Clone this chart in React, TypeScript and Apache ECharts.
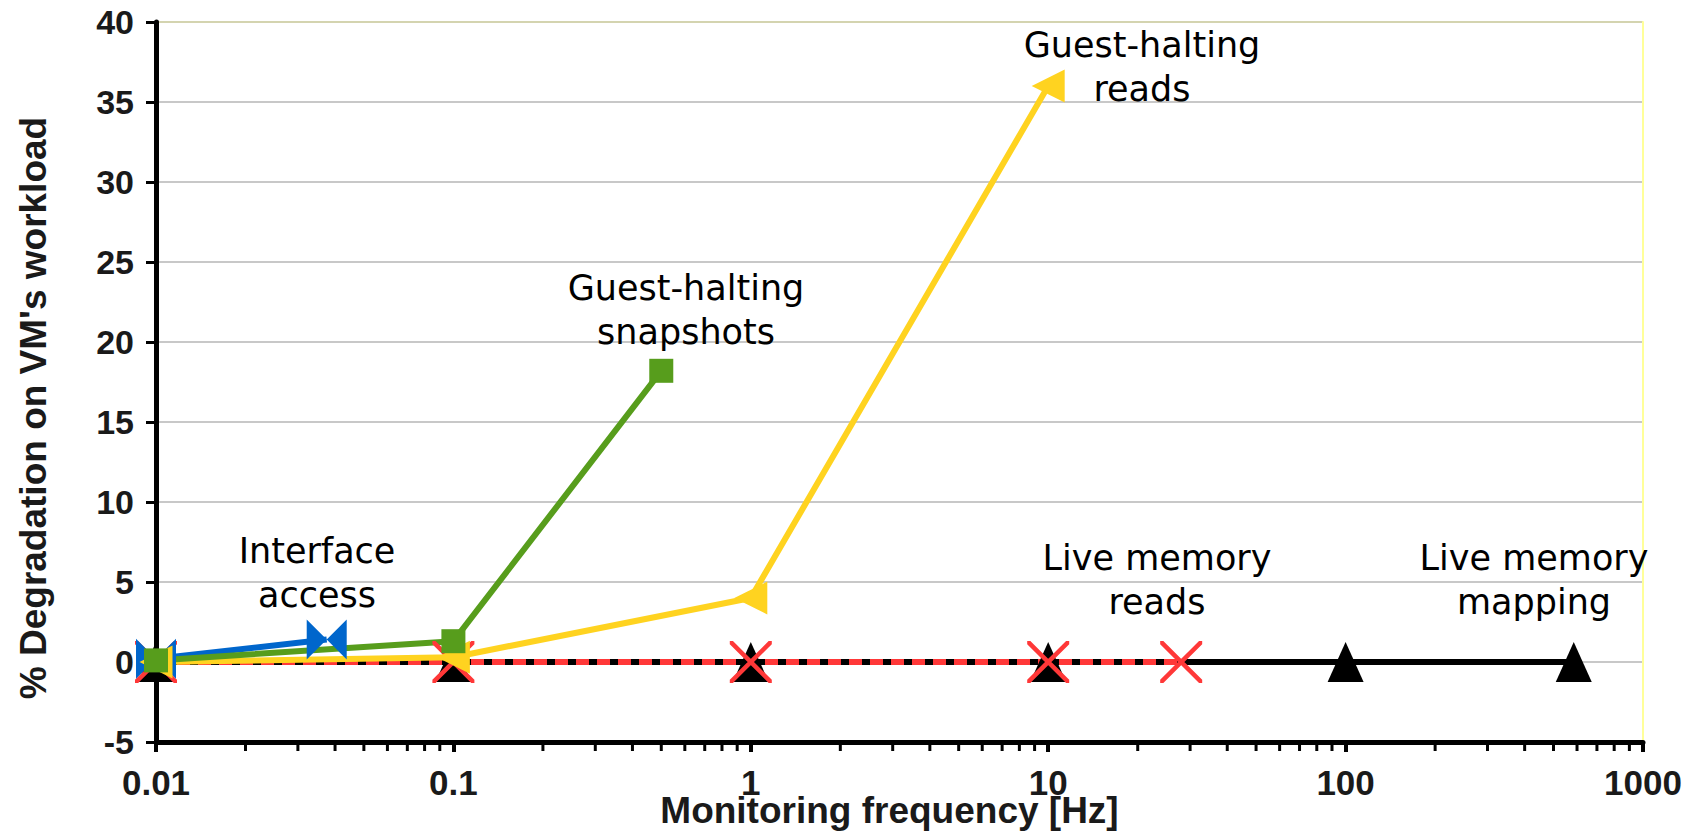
import React, { useEffect, useRef } from "react";
import * as echarts from "echarts";

// ---- data ----
const interfaceX = [0.01, 0.0375];
const interfaceY = [0.2, 1.4];
const snapshotsX = [0.01, 0.1, 0.5];
const snapshotsY = [0.1, 1.3, 18.2];
const readsX = [0.01, 0.1, 1, 10];
const readsY = [0, 0.3, 4, 36];
const liveReadsX = [0.01, 0.1, 1, 10, 28];
const liveReadsY = [0, 0, 0, 0, 0];
const mappingX = [0.01, 0.1, 1, 10, 100, 585];
const mappingY = [0, 0, 0, 0, 0, 0];

const xTickLabels = ["0.01", "0.1", "1", "10", "100", "1000"];
const xTickValues = [0.01, 0.1, 1, 10, 100, 1000];
const minorDecades = [0.01, 0.1, 1, 10, 100];
const minorMultipliers = [2, 3, 4, 5, 6, 7, 8, 9];

const annotations = [
  { text: "Guest-halting\nreads", x: 1142, y: 67 },
  { text: "Guest-halting\nsnapshots", x: 686, y: 310 },
  { text: "Interface\naccess", x: 317, y: 573 },
  { text: "Live memory\nreads", x: 1157, y: 580 },
  { text: "Live memory\nmapping", x: 1534, y: 580 },
];

const pairs = (xs: number[], ys: number[]) => xs.map((x, i) => [x, ys[i]]);

const BOWTIE = "path://M0,0 L20,10 L0,20 Z M40,0 L20,10 L40,20 Z";
const LEFT_TRI = "path://M0,10 L20,0 L20,20 Z";
const CROSS =
  "path://M0,0 L3,0 L40,37 L40,40 L37,40 L0,3 Z M40,0 L40,3 L3,40 L0,40 L0,37 L37,0 Z";

export default function App() {
  const ref = useRef<HTMLDivElement>(null);
  useEffect(() => {
    document.body.style.margin = "0";
    document.body.style.overflow = "hidden";
    if (!ref.current) return;
    const chart = echarts.init(ref.current, undefined, { renderer: "svg" });
    const minorTicks: number[][] = [];
    minorDecades.forEach((d) =>
      minorMultipliers.forEach((m) => minorTicks.push([+(d * m).toPrecision(6), -5]))
    );
    const gridColors = [
      "#c8c8c8", "#c8c8c8", "#c8c8c8", "#c8c8c8", "#c8c8c8",
      "#c8c8c8", "#c8c8c8", "#c8c8c8", "#c8c8c8", "#d4d4b0",
    ];
    const labelFont = {
      fontFamily: "Liberation Sans",
      fontWeight: "bold" as const,
      color: "#1a1a1a",
    };
    const lineBase = {
      type: "line" as const,
      clip: false,
      silent: true,
      showSymbol: true,
      emphasis: { disabled: true },
    };
    chart.setOption({
      animation: false,
      backgroundColor: "#ffffff",
      tooltip: { show: false },
      grid: {
        left: 156,
        right: 51,
        top: 22,
        bottom: 91,
        containLabel: false,
        outerBoundsMode: "none",
      },
      xAxis: {
        type: "log",
        logBase: 10,
        min: 0.01,
        max: 1000,
        axisLine: { show: true, onZero: false, lineStyle: { color: "#000", width: 5 } },
        axisTick: { show: true, length: 10, lineStyle: { color: "#000", width: 4 } },
        minorTick: { show: false },
        splitLine: { show: false },
        axisLabel: {
          ...labelFont,
          fontSize: 35,
          lineHeight: 24,
          margin: 28,
          formatter: (v: number) => {
            let best = 0;
            xTickValues.forEach((t, i) => {
              if (Math.abs(Math.log10(t) - Math.log10(v)) < Math.abs(Math.log10(xTickValues[best]) - Math.log10(v))) best = i;
            });
            return xTickLabels[best];
          },
        },
        name: "Monitoring frequency [Hz]",
        nameLocation: "middle",
        nameGap: 56,
        nameMoveOverlap: false,
        nameTextStyle: { ...labelFont, fontSize: 37, lineHeight: 24, padding: [0, 20, 0, 0] },
      },
      yAxis: [
        {
          type: "value",
          min: -5,
          max: 40,
          interval: 5,
          axisLine: { show: true, lineStyle: { color: "#000", width: 5 } },
          axisTick: { show: true, length: 10, lineStyle: { color: "#000", width: 3 } },
          splitLine: { show: true, lineStyle: { color: gridColors, width: 2 } },
          axisLabel: { ...labelFont, fontSize: 34, margin: 22 },
          name: "% Degradation on VM's workload",
          nameLocation: "middle",
          nameGap: 104,
          nameMoveOverlap: false,
          nameTextStyle: { ...labelFont, fontSize: 37, padding: [0, 52, 0, 0] },
        },
        {
          type: "value",
          position: "right",
          min: -5,
          max: 40,
          interval: 5,
          axisLine: { show: true, lineStyle: { color: "#ffff99", width: 2 } },
          axisTick: { show: false },
          axisLabel: { show: false },
          splitLine: { show: false },
        },
      ],
      series: [
        {
          type: "custom",
          silent: true,
          clip: false,
          data: minorTicks,
          renderItem: (_p: any, api: any) => {
            const pt = api.coord([api.value(0), -5]);
            return {
              type: "line",
              shape: { x1: pt[0], y1: pt[1], x2: pt[0], y2: pt[1] + 9 },
              style: { stroke: "#000", lineWidth: 3 },
            };
          },
        },
        {
          ...lineBase,
          name: "Live memory mapping",
          data: pairs(mappingX, mappingY),
          symbol: "triangle",
          symbolSize: [36, 40],
          lineStyle: { color: "#000000", width: 6 },
          itemStyle: { color: "#000000" },
        },
        {
          ...lineBase,
          name: "Live memory reads",
          data: pairs(liveReadsX, liveReadsY),
          symbol: CROSS,
          symbolSize: [42, 42],
          lineStyle: { color: "#ff3838", width: 6, type: [13, 8] },
          itemStyle: { color: "#ff3838" },
        },
        {
          ...lineBase,
          name: "Interface access",
          data: pairs(interfaceX, interfaceY),
          symbol: BOWTIE,
          symbolSize: [40, 40],
          lineStyle: { color: "#0066cc", width: 6 },
          itemStyle: { color: "#0066cc" },
        },
        {
          ...lineBase,
          name: "Guest-halting reads",
          data: pairs(readsX, readsY),
          symbol: LEFT_TRI,
          symbolSize: [33, 33],
          lineStyle: { color: "#ffd320", width: 6 },
          itemStyle: { color: "#ffd320" },
        },
        {
          ...lineBase,
          name: "Guest-halting snapshots",
          data: pairs(snapshotsX, snapshotsY),
          symbol: "rect",
          symbolSize: [24, 24],
          lineStyle: { color: "#579d1c", width: 6 },
          itemStyle: { color: "#579d1c" },
        },
      ],
      graphic: annotations.map((a) => ({
        type: "text",
        x: a.x,
        y: a.y,
        silent: true,
        z: 100,
        style: {
          text: a.text,
          align: "center",
          verticalAlign: "middle",
          fontFamily: "DejaVu Sans",
          fontSize: 35,
          lineHeight: 44,
          fill: "#000",
        },
      })),
    });
    return () => chart.dispose();
  }, []);
  return <div ref={ref} style={{ width: 1694, height: 833 }} />;
}
